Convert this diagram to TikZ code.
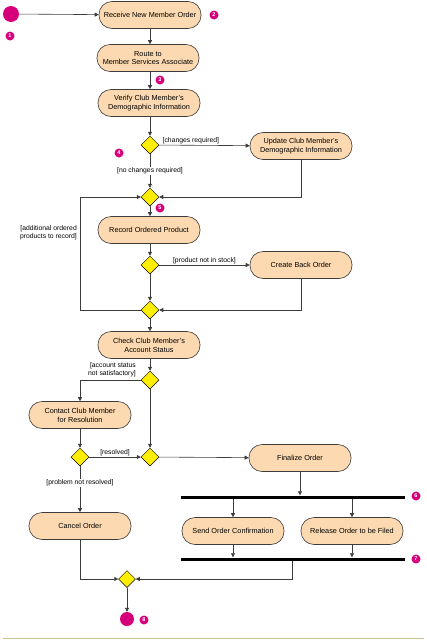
\documentclass[tikz,border=0pt]{standalone}
\usepackage{fontspec}
\setmainfont{Liberation Sans}
\usetikzlibrary{arrows.meta,shapes.geometric}
\definecolor{peach}{RGB}{252,217,176}
\definecolor{magenta}{RGB}{214,0,123}
\definecolor{dyellow}{RGB}{255,238,0}
\definecolor{lgray}{RGB}{60,60,60}
\definecolor{olive}{RGB}{200,196,150}
\tikzset{
  act/.style={draw=lgray, line width=0.6pt, fill=peach, rounded corners=13pt,
    minimum width=102pt, minimum height=27pt, align=center, inner sep=1pt,
    font=\fontsize{7.3}{8.8}\selectfont},
  dec/.style={diamond, draw=black, line width=0.5pt, fill=dyellow, minimum size=18pt, inner sep=0pt},
  bar/.style={fill=black, draw=none, minimum width=224pt, minimum height=3pt, inner sep=0pt},
  badge/.style={circle, fill=magenta, text=white, inner sep=0pt, minimum size=9pt,
    font=\fontsize{5.5}{5.5}\selectfont\bfseries},
  startdot/.style={circle, fill=magenta, inner sep=0pt, minimum size=16pt},
  enddot/.style={circle, fill=magenta, inner sep=0pt, minimum size=14pt},
  flow/.style={draw=lgray, line width=0.6pt, -{Triangle[length=4pt,width=4pt]}},
  plain/.style={draw=lgray, line width=0.6pt},
  guard/.style={font=\fontsize{6.8}{8}\selectfont, inner sep=1pt, align=right}
}
\begin{document}
\begin{tikzpicture}[x=1pt,y=-1pt]
\useasboundingbox (0,0) rectangle (426,640);
% nodes
\node[startdot] (start) at (11,14) {};
\node[act] (receive) at (150,15) {Receive New Member Order};
\node[act] (route) at (148,58) {Route to\\Member Services Associate};
\node[act] (verify) at (149,103) {Verify Club Member's\\Demographic Information};
\node[dec] (d1) at (150,145) {};
\node[act] (update) at (301,146) {Update Club Member's\\Demographic Information};
\node[dec] (d2) at (150,197) {};
\node[act] (record) at (149,230) {Record Ordered Product};
\node[dec] (d3) at (150,265) {};
\node[act] (back) at (301,265) {Create Back Order};
\node[dec] (d4) at (150,310) {};
\node[act] (check) at (149,345) {Check Club Member's\\Account Status};
\node[dec] (d5) at (150,380) {};
\node[act] (contact) at (80,415) {Contact Club Member\\for Resolution};
\node[dec] (d6) at (80,457) {};
\node[dec] (d7) at (150,457) {};
\node[act] (final) at (300,458) {Finalize Order};
\node[act] (cancel) at (80,526) {Cancel Order};
\node[bar] (fork) at (293,497) {};
\node[act] (send) at (233,531) {Send Order Confirmation};
\node[act] (release) at (352,531) {Release Order to be Filed};
\node[bar] (join) at (293,559) {};
\node[dec, minimum size=17pt] (dfin) at (127,579) {};
\node[enddot] (end) at (127,619) {};
\coordinate (lp) at (80,310);
\coordinate (jx) at (292,579);
% badges
\node[badge] (b1) at (10,36) {1};
\node[badge] (b2) at (214,15) {2};
\node[badge] (b3) at (160,80) {3};
\node[badge] (b4) at (119,153) {4};
\node[badge] (b5) at (160,208) {5};
\node[badge] (b6) at (416,496) {6};
\node[badge] (b7) at (416,559) {7};
\node[badge] (b8) at (144,620) {8};
% connectors
\draw[flow] (start) -- (receive);
\draw[flow] (receive) -- (receive |- route.north);
\draw[flow] (route.south -| receive) -- (receive |- verify.north);
\draw[flow] (verify.south -| d1) -- (d1);
\draw[flow] (d1) -- node[guard, above, pos=0.35] {[changes required]} (update);
\draw[flow] (d1) -- (d2);
\node[guard, fill=white, align=center] (lbl1) at (150,171) {[no changes required]};
\draw[flow] (update) |- (d2);
\draw[flow] (d2) -- (d2 |- record.north);
\draw[flow] (record.south -| d3) -- (d3);
\draw[flow] (d3) -- node[guard, above, pos=0.5] {[product not in stock]} (back);
\draw[flow] (d3) -- (d4);
\draw[flow] (back) |- (d4);
\draw[flow] (d4) -- (lp) |- (d2);
\node[guard, anchor=east] (lbl2) at (78,233) {[additional ordered\\products to record]};
\draw[flow] (d4) -- (d4 |- check.north);
\draw[flow] (check.south -| d5) -- (d5);
\draw[flow] (d5) -| (contact);
\node[guard, anchor=south east] (lbl3) at (137,378) {[account status\\not satisfactory]};
\draw[flow] (d5) -- (d7);
\draw[flow] (contact) -- (d6);
\draw[flow] (d6) -- node[guard, above] {[resolved]} (d7);
\draw[flow] (d6) -- (cancel);
\node[guard, fill=white, align=center] (lbl4) at (80,483) {[problem not resolved]};
\draw[flow] (d7) -- (final);
\draw[flow] (final) -- (final |- fork.north);
\draw[flow] (send |- fork.south) -- (send);
\draw[flow] (release |- fork.south) -- (release);
\draw[flow] (send) -- (send |- join.north);
\draw[flow] (release) -- (release |- join.north);
\draw[flow] (jx |- join.south) -- (jx) -- (dfin);
\draw[flow] (cancel) |- (dfin);
\draw[flow] (dfin) -- (end);
% bottom rule
\draw[olive, line width=0.8pt] (3,638) -- (424,638);
\end{tikzpicture}
\end{document}
